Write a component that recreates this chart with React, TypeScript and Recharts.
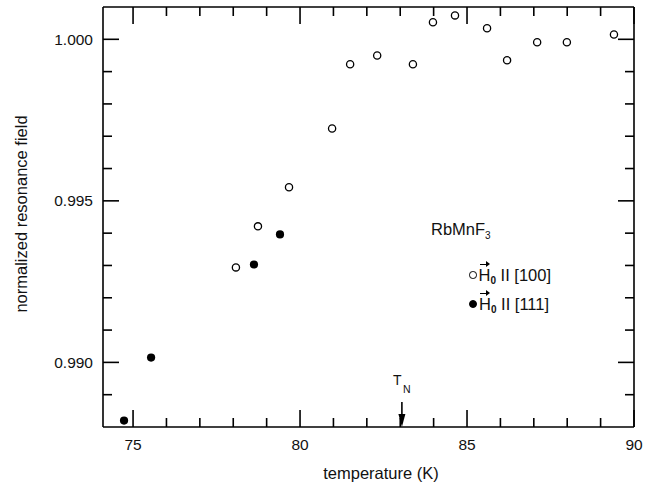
import React, { useEffect, useState } from "react";
import { ScatterChart, Scatter, XAxis, YAxis, ReferenceDot, ReferenceLine } from "recharts";

// H0 || [100] (open circles)
const temps100 = [78.08, 78.74, 79.67, 80.96, 81.5, 82.31, 83.38, 83.98, 84.64, 85.6, 86.2, 87.1, 87.99, 89.4];
const field100 = [0.99294, 0.99421, 0.99542, 0.99724, 0.99923, 0.9995, 0.99923, 1.00053, 1.00074, 1.00034, 0.99935, 0.99991, 0.99991, 1.00015];
// H0 || [111] (filled circles)
const temps111 = [74.73, 75.54, 78.62, 79.4];
const field111 = [0.9882, 0.99015, 0.99303, 0.99396];

const xTicks = [75, 76, 77, 78, 79, 80, 81, 82, 83, 84, 85, 86, 87, 88, 89, 90];
const yTicks = [0.989, 0.99, 0.991, 0.992, 0.993, 0.994, 0.995, 0.996, 0.997, 0.998, 0.999, 1.0];
const xDomain = [74.1, 90];
const yDomain = [0.988, 1.001];
const neelTemp = 83.05;

const data100 = temps100.map((t, i) => ({ t, h: field100[i] }));
const data111 = temps111.map((t, i) => ({ t, h: field111[i] }));

const FONT = "'Liberation Sans', Arial, Helvetica, sans-serif";
const INK = "#000";
const TEXT = "#111";

const isMajorX = (v: number) => v % 5 === 0;
const isMajorY = (v: number) => Math.round(v * 1000) % 5 === 0;

function BottomTick({ x, y, payload }: any) {
  const major = isMajorX(payload.value);
  return (
    <g>
      <line x1={x} y1={y} x2={x} y2={y - (major ? 17 : 9)} stroke={INK} strokeWidth={1.6} />
      {major && (
        <text x={x} y={y + 23} textAnchor="middle" fontSize={15.5} fontFamily={FONT} fill={TEXT}>
          {payload.value}
        </text>
      )}
    </g>
  );
}

function LeftTick({ x, y, payload }: any) {
  const major = isMajorY(payload.value);
  return (
    <g>
      <line x1={x} y1={y} x2={x + (major ? 16 : 9)} y2={y} stroke={INK} strokeWidth={1.6} />
      {major && (
        <text x={x - 10} y={y + 5.5} textAnchor="end" fontSize={15.5} fontFamily={FONT} fill={TEXT}>
          {payload.value.toFixed(3)}
        </text>
      )}
    </g>
  );
}

function RightTick({ x, y, payload }: any) {
  const major = isMajorY(payload.value);
  return <line x1={x} y1={y} x2={x - (major ? 16 : 9)} y2={y} stroke={INK} strokeWidth={1.6} />;
}

const openDot = (p: any) => <circle cx={p.cx} cy={p.cy} r={3.6} fill="#fff" stroke={INK} strokeWidth={1.3} />;
const filledDot = (p: any) => <circle cx={p.cx} cy={p.cy} r={4.1} fill={INK} />;

const neelMarker = (p: any) => {
  const { cx, cy } = p;
  return (
    <g>
      <line x1={cx} y1={cy - 25} x2={cx} y2={cy - 10} stroke={INK} strokeWidth={1.6} />
      <polygon points={`${cx - 3.5},${cy - 13} ${cx + 3.5},${cy - 13} ${cx},${cy}`} fill={INK} />
      <text x={cx - 9} y={cy - 42} fontSize={14} fontFamily={FONT} fill={TEXT}>T</text>
      <text x={cx + 1} y={cy - 34} fontSize={10.5} fontFamily={FONT} fill={TEXT}>N</text>
    </g>
  );
};

function VecH() {
  return (
    <span style={{ position: "relative" }}>
      <span style={{ position: "absolute", left: 1, top: -2, width: 7, height: 1.3, background: INK }} />
      <span
        style={{
          position: "absolute",
          left: 7,
          top: -4.4,
          width: 0,
          height: 0,
          borderTop: "3px solid transparent",
          borderBottom: "3px solid transparent",
          borderLeft: "4.5px solid " + INK,
        }}
      />
      H<span style={{ fontSize: 10, fontWeight: 700, position: "relative", top: 3 }}>0</span>
    </span>
  );
}

const dotStyle = (filled: boolean) => ({
  display: "inline-block",
  boxSizing: "border-box" as const,
  width: filled ? 8 : 7.5,
  height: filled ? 8 : 7.5,
  borderRadius: "50%",
  border: "1.2px solid " + INK,
  background: filled ? INK : "#fff",
});

export default function App() {
  // re-render a few times after mount so every layer gets drawn once its target exists
  const [pass, setPass] = useState(0);
  useEffect(() => {
    setPass(1);
    const ids = [setTimeout(() => setPass(2), 40), setTimeout(() => setPass(3), 150)];
    return () => ids.forEach(clearTimeout);
  }, []);

  const axisLine = { stroke: INK, strokeWidth: 1.6 + pass * 0.00001 };
  const topLine = (p: any) => <line x1={p.x1} y1={p.y1} x2={p.x2} y2={p.y2} stroke={INK} strokeWidth={1.6} />;
  const topTick = (major: boolean) => (p: any) => {
    const top = Math.min(p.y1, p.y2);
    return <line x1={p.x1} y1={top} x2={p.x1} y2={top + (major ? 17 : 9)} stroke={INK} strokeWidth={1.6} />;
  };

  return (
    <div style={{ position: "absolute", left: 0, top: 0, width: 653, height: 490, background: "#fff", fontFamily: FONT }}>
      <ScatterChart width={653} height={490} margin={{ top: 7, right: 18, bottom: 0, left: 0 }}>
        <XAxis
          xAxisId="b"
          dataKey="t"
          type="number"
          domain={xDomain}
          ticks={xTicks}
          interval={0}
          allowDataOverflow
          height={63}
          tickSize={0}
          tickMargin={0}
          tickLine={false}
          axisLine={axisLine}
          tick={<BottomTick pass={pass} />}
          label={(props: any) => {
            const vb = props.viewBox;
            return (
              <text x={381} y={vb.y + 52} textAnchor="middle" fontSize={16.5} fontFamily={FONT} fill={TEXT}>
                temperature (K)
              </text>
            );
          }}
        />
        <YAxis
          yAxisId="l"
          dataKey="h"
          type="number"
          domain={yDomain}
          ticks={yTicks}
          interval={0}
          allowDataOverflow
          width={103}
          tickSize={0}
          tickMargin={0}
          tickLine={false}
          axisLine={axisLine}
          tick={<LeftTick pass={pass} />}
          label={(props: any) => {
            const vb = props.viewBox;
            const cy = vb.y + vb.height / 2 - 3;
            return (
              <text x={27} y={cy} transform={`rotate(-90 27 ${cy})`} textAnchor="middle" fontSize={16.5} fontFamily={FONT} fill={TEXT}>
                normalized resonance field
              </text>
            );
          }}
        />
        <YAxis
          yAxisId="r"
          orientation="right"
          type="number"
          domain={yDomain}
          ticks={yTicks}
          interval={0}
          allowDataOverflow
          width={1}
          tickSize={0}
          tickMargin={0}
          tickLine={false}
          axisLine={axisLine}
          tick={<RightTick pass={pass} />}
        />
        <ReferenceLine xAxisId="b" yAxisId="l" y={yDomain[1]} ifOverflow="visible" shape={topLine} />
        {xTicks.map((t) => (
          <ReferenceLine key={t} xAxisId="b" yAxisId="l" x={t} shape={topTick(isMajorX(t))} />
        ))}
        <Scatter xAxisId="b" yAxisId="l" data={data100} shape={openDot} isAnimationActive={false} />
        <Scatter xAxisId="b" yAxisId="l" data={data111} shape={filledDot} isAnimationActive={false} />
        <ReferenceDot xAxisId="b" yAxisId="l" x={neelTemp} y={yDomain[0]} ifOverflow="visible" shape={neelMarker} />
      </ScatterChart>

      <div style={{ position: "absolute", left: 431, top: 219, fontSize: 16.5, color: TEXT, lineHeight: "20px", whiteSpace: "nowrap" }}>
        RbMnF<span style={{ fontSize: 10, position: "relative", top: 4 }}>3</span>
      </div>
      <div style={{ position: "absolute", left: 469, top: 266, height: 18, display: "flex", alignItems: "center", fontSize: 16.5, color: TEXT, whiteSpace: "nowrap" }}>
        <span style={dotStyle(false)} />
        <span style={{ marginLeft: 2 }}>
          <VecH /> II [100]
        </span>
      </div>
      <div style={{ position: "absolute", left: 469, top: 295, height: 18, display: "flex", alignItems: "center", fontSize: 16.5, color: TEXT, whiteSpace: "nowrap" }}>
        <span style={dotStyle(true)} />
        <span style={{ marginLeft: 2 }}>
          <VecH /> II [111]
        </span>
      </div>
    </div>
  );
}
